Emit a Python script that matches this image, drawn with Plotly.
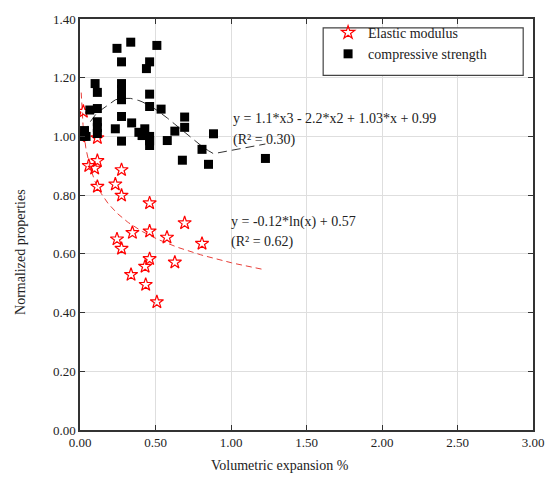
import numpy as np
import plotly.graph_objects as go

# Compressive strength (normalized) vs volumetric expansion (%)
cs_x = [0.02, 0.03, 0.04, 0.065, 0.10, 0.115, 0.115, 0.115, 0.115, 0.115,
        0.234, 0.245, 0.275, 0.275, 0.275, 0.275, 0.275, 0.275, 0.275,
        0.336, 0.342, 0.390, 0.411, 0.429, 0.440, 0.461, 0.461, 0.461,
        0.461, 0.461, 0.461, 0.509, 0.537, 0.578, 0.628, 0.678, 0.693,
        0.693, 0.808, 0.851, 0.884, 1.228]
cs_y = [1.00, 1.02, 1.00, 1.09, 1.18, 1.15, 1.095, 1.05, 1.03, 1.01,
        1.026, 1.30, 1.254, 1.18, 1.16, 1.14, 1.125, 1.068, 0.984,
        1.321, 1.046, 1.014, 1.003, 1.026, 1.231, 1.254, 1.144, 1.102,
        1.00, 0.985, 0.969, 1.310, 1.093, 0.986, 1.018, 0.919, 1.066,
        1.031, 0.956, 0.905, 1.009, 0.925]

# Elastic modulus (normalized) vs volumetric expansion (%)
em_x = [0.005, 0.022, 0.115, 0.058, 0.097, 0.115, 0.115, 0.234, 0.275,
        0.275, 0.461, 0.693, 0.347, 0.461, 0.576, 0.245, 0.808, 0.275,
        0.461, 0.431, 0.628, 0.338, 0.435, 0.509]
em_y = [1.00, 1.085, 0.995, 0.900, 0.891, 0.917, 0.829, 0.837, 0.886,
        0.799, 0.773, 0.705, 0.672, 0.677, 0.656, 0.650, 0.635, 0.618,
        0.583, 0.557, 0.571, 0.529, 0.495, 0.436]

# Fitted trend coefficients
cubic = [1.1, -2.2, 1.03, 0.99]   # y = a*x^3 + b*x^2 + c*x + d
log_a, log_b = -0.12, 0.57        # y = a*ln(x) + b
cubic_label = "y = 1.1*x3 - 2.2*x2 + 1.03*x + 0.99"
cubic_r2 = "(R² = 0.30)"
log_label = "y = -0.12*ln(x) + 0.57"
log_r2 = "(R² = 0.62)"

x_ticks = [0, 0.5, 1.0, 1.5, 2.0, 2.5, 3.0]
y_ticks = [0, 0.2, 0.4, 0.6, 0.8, 1.0, 1.2, 1.4]

FONT = "Liberation Serif"

cx = np.array(sorted(set(cs_x)))
cy = np.polyval(cubic, cx)
lx = np.geomspace(0.008, max(cs_x), 200)
ly = log_a * np.log(lx) + log_b

fig = go.Figure()
fig.add_trace(go.Scatter(x=lx, y=ly, mode="lines", showlegend=False,
                         line=dict(color="#e8403a", width=1, dash="6px,4px")))
fig.add_trace(go.Scatter(x=cx, y=cy, mode="lines", showlegend=False,
                         line=dict(color="#333333", width=1, dash="9px,5px")))
fig.add_trace(go.Scatter(x=em_x, y=em_y, mode="markers", name="Elastic modulus",
                         marker=dict(symbol="star-open", size=10, color="red",
                                     line=dict(color="red", width=1.2))))
fig.add_trace(go.Scatter(x=cs_x, y=cs_y, mode="markers", name="compressive strength",
                         marker=dict(symbol="square", size=9, color="black",
                                     line=dict(width=0))))

axis_common = dict(showline=True, linecolor="#333333", linewidth=1.5, mirror="ticks",
                   ticks="inside", ticklen=5, tickcolor="#333333",
                   showgrid=True, gridcolor="#dedede", gridwidth=1, zeroline=False,
                   tickfont=dict(family=FONT, size=13, color="#222222"))
fig.update_xaxes(range=[0, 3], tickvals=x_ticks, tickformat=".2f", **axis_common)
fig.update_yaxes(range=[0, 1.4], tickvals=y_ticks, tickformat=".2f", **axis_common)

annos = [
    dict(x=234, y=115, text=cubic_label),
    dict(x=234, y=137, text=cubic_r2),
    dict(x=232, y=220, text=log_label),
    dict(x=232, y=240, text=log_r2),
]
W, H = 556, 483
L, R, T, B = 80, 14, 15, 53
pw, ph = W - L - R, H - T - B
annotations = []
for a in annos:
    annotations.append(dict(x=(a["x"] - L) / pw, y=1 - (a["y"] - T) / ph,
                            xref="paper", yref="paper", text=a["text"],
                            showarrow=False, xanchor="left", yanchor="middle",
                            font=dict(family=FONT, size=14, color="#222222")))
annotations.append(dict(x=(284 - L) / pw, y=-(466 - 430) / ph, xref="paper", yref="paper",
                        text="Volumetric expansion %", showarrow=False,
                        xanchor="center", yanchor="middle",
                        font=dict(family=FONT, size=14, color="#222222")))
annotations.append(dict(x=-(L - 20) / pw, y=1 - (250 - T) / ph, xref="paper", yref="paper",
                        text="Normalized properties", showarrow=False, textangle=-90,
                        xanchor="center", yanchor="middle",
                        font=dict(family=FONT, size=14, color="#222222")))

fig.update_layout(
    width=W, height=H,
    margin=dict(l=L, r=R, t=T, b=B),
    plot_bgcolor="white", paper_bgcolor="white",
    annotations=annotations,
    shapes=[dict(type="rect", xref="paper", yref="paper",
                 x0=(328 - L) / pw, x1=(532 - L) / pw,
                 y0=1 - (72 - T) / ph, y1=1 - (24 - T) / ph,
                 fillcolor="white", line=dict(color="#444444", width=1.2),
                 layer="above")],
    legend=dict(x=(333 - L) / pw, y=1 - (13 - T) / ph, xanchor="left", yanchor="top",
                bgcolor="rgba(0,0,0,0)", borderwidth=0,
                font=dict(family=FONT, size=14, color="#222222")),
)

fig.write_html("out.html")
